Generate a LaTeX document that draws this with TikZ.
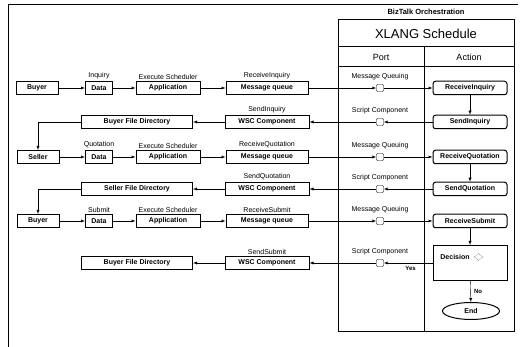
\documentclass[tikz,border=0pt]{standalone}
\usepackage{fontspec}
\setmainfont{Liberation Sans}
\usetikzlibrary{positioning,shapes.geometric}

\begin{document}
\begin{tikzpicture}[
                    x=1pt, y=-1pt,
                    >=latex,
                    blk/.style={rectangle, draw, line width=1pt, minimum height=13pt, inner sep=1pt,
                                font=\fontsize{7}{8}\selectfont\bfseries},
                    act/.style={rectangle, draw, line width=1pt, rounded corners=2.5pt, minimum width=74pt,
                                minimum height=13.5pt, inner sep=1pt, font=\fontsize{7}{8}\selectfont\bfseries},
                    port/.style={rectangle, draw, rounded corners=1pt, minimum size=7pt, inner sep=0pt},
                    lbl/.style={inner sep=1pt, font=\fontsize{7}{8}\selectfont},
                    hd/.style={inner sep=1pt, font=\fontsize{9}{10}\selectfont}
                ]
                \useasboundingbox (0,0) rectangle (522,347);
                \draw (8,347) -- (8,4) -- (518,4);

                % XLANG schedule frame
                \draw [line width=1pt] (338,20) rectangle (514,331);
                \draw [line width=1pt] (338,47) -- (514,47);
                \draw [line width=1pt] (338,67) -- (514,67);
                \draw [line width=1pt] (424,47) -- (424,331);
                \node [inner sep=1pt, font=\fontsize{7.5}{9}\selectfont\bfseries] (biztalk) at (426,12) {BizTalk Orchestration};
                \node [inner sep=1pt, font=\fontsize{13}{15}\selectfont] (xlang) at (426,33.5) {XLANG Schedule};
                \node [hd] (porthd) at (381,57) {Port};
                \node [hd] (acthd) at (469,57) {Action};

                % Blocks
                \node [blk, minimum width=42pt] (buyer1) at (37,88) {Buyer};
                \node [blk, minimum width=27pt] (data1) at (99,88) {Data};
                \node [blk, minimum width=64pt] (app1) at (168,88) {Application};
                \node [blk, minimum width=82pt] (mq1) at (267,88) {Message queue};
                \node [port] (p1) at (380,88) {};
                \node [act] (recvinq) at (470,88) {ReceiveInquiry};

                \node [blk, minimum width=111pt] (bfd1) at (137,122) {Buyer File Directory};
                \node [blk, minimum width=84pt] (wsc1) at (267,122) {WSC Component};
                \node [port] (p2) at (380,122) {};
                \node [act] (sendinq) at (470,122) {SendInquiry};

                \node [blk, minimum width=42pt] (seller) at (38,157) {Seller};
                \node [blk, minimum width=27pt] (data2) at (99,157) {Data};
                \node [blk, minimum width=64pt] (app2) at (168,157) {Application};
                \node [blk, minimum width=82pt] (mq2) at (267,157) {Message queue};
                \node [port] (p3) at (380,157) {};
                \node [act] (recvquo) at (470,157) {ReceiveQuotation};

                \node [blk, minimum width=111pt] (sfd) at (137,189) {Seller File Directory};
                \node [blk, minimum width=84pt] (wsc2) at (267,189) {WSC Component};
                \node [port] (p4) at (380,189) {};
                \node [act] (sendquo) at (470,189) {SendQuotation};

                \node [blk, minimum width=42pt] (buyer2) at (38,221) {Buyer};
                \node [blk, minimum width=27pt] (data3) at (99,221) {Data};
                \node [blk, minimum width=64pt] (app3) at (168,221) {Application};
                \node [blk, minimum width=82pt] (mq3) at (267,221) {Message queue};
                \node [port] (p5) at (380,221) {};
                \node [act] (recvsub) at (470,221) {ReceiveSubmit};

                \node [blk, minimum width=111pt] (bfd2) at (137,263) {Buyer File Directory};
                \node [blk, minimum width=84pt] (wsc3) at (267,263) {WSC Component};
                \node [port] (p6) at (380,263) {};
                \node [rectangle, draw, line width=1pt, minimum width=74pt, minimum height=35pt] (decision) at (470,263) {};
                \node [inner sep=1pt, font=\fontsize{7}{8}\selectfont\bfseries] (dectext) at (455,257) {Decision};
                \node [diamond, draw, densely dotted, inner sep=0pt, minimum width=9pt, minimum height=7pt,
                       right=3pt of dectext] (decicon) {};
                \node [ellipse, draw, line width=1pt, minimum width=57pt, minimum height=17pt, inner sep=1pt,
                       font=\fontsize{7}{8}\selectfont\bfseries] (end) at (471,311) {End};

                % Labels
                \node [lbl, above=0.5pt of data1] {Inquiry};
                \node [lbl, above=0.5pt of app1] {Execute Scheduler};
                \node [lbl, above=0.5pt of mq1] {ReceiveInquiry};
                \node [lbl, above=3pt of p1] {Message Queuing};
                \node [lbl, above=0.5pt of wsc1] {SendInquiry};
                \node [lbl, above=3pt of p2] {Script Component};
                \node [lbl, above=0.5pt of data2] {Quotation};
                \node [lbl, above=0.5pt of app2] {Execute Scheduler};
                \node [lbl, above=0.5pt of mq2] {ReceiveQuotation};
                \node [lbl, above=3pt of p3] {Message Queuing};
                \node [lbl, above=0.5pt of wsc2] {SendQuotation};
                \node [lbl, above=3pt of p4] {Script Component};
                \node [lbl, above=0.5pt of data3] {Submit};
                \node [lbl, above=0.5pt of app3] {Execute Scheduler};
                \node [lbl, above=0.5pt of mq3] {ReceiveSubmit};
                \node [lbl, above=3pt of p5] {Message Queuing};
                \node [lbl, above=0.5pt of wsc3] {SendSubmit};
                \node [lbl, above=3pt of p6] {Script Component};

                % Connections
                \draw [->] (buyer1) -- (data1);
                \draw [->] (data1) -- (app1);
                \draw [->] (app1) -- (mq1);
                \draw [->] (mq1) -- (p1);
                \draw [->] (p1) -- (recvinq);
                \draw [->] (recvinq) -- (sendinq);
                \draw [->] (sendinq) -- (p2);
                \draw [->] (p2) -- (wsc1);
                \draw [->] (wsc1) -- (bfd1);
                \draw [->] (bfd1.west) -| (seller);

                \draw [->] (seller) -- (data2);
                \draw [->] (data2) -- (app2);
                \draw [->] (app2) -- (mq2);
                \draw [->] (mq2) -- (p3);
                \draw [->] (p3) -- (recvquo);
                \draw [->] (recvquo) -- (sendquo);
                \draw [->] (sendquo) -- (p4);
                \draw [->] (p4) -- (wsc2);
                \draw [->] (wsc2) -- (sfd);
                \draw [->] (sfd.west) -| (buyer2);

                \draw [->] (buyer2) -- (data3);
                \draw [->] (data3) -- (app3);
                \draw [->] (app3) -- (mq3);
                \draw [->] (mq3) -- (p5);
                \draw [->] (p5) -- (recvsub);
                \draw [->] (recvsub) -- (decision);
                \draw [->] (decision) --node[below, pos=0.45, font=\fontsize{6}{7}\selectfont\bfseries]{Yes} (p6);
                \draw [->] (p6) -- (wsc3);
                \draw [->] (wsc3) -- (bfd2);
                \draw [->] (decision) --node[right, font=\fontsize{6}{7}\selectfont\bfseries]{No} (end);
            \end{tikzpicture}
\end{document}
